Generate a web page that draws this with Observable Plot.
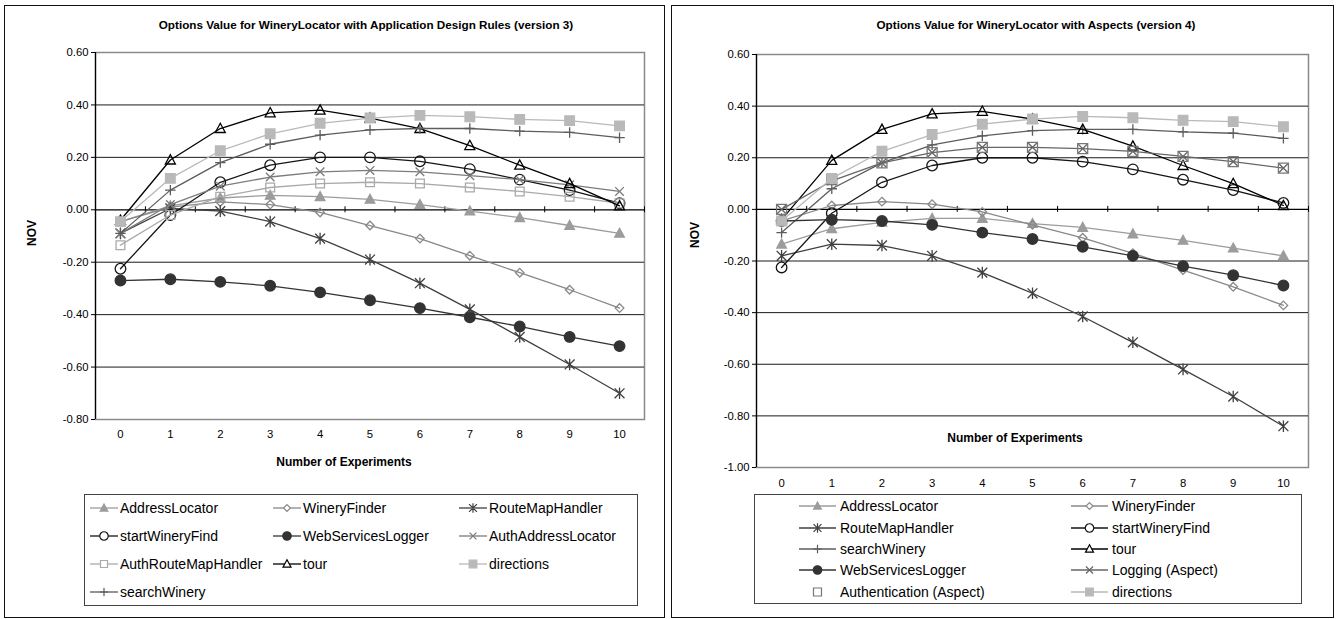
<!DOCTYPE html>
<html><head><meta charset="utf-8">
<script src="https://cdn.jsdelivr.net/npm/d3@7"></script>
<script src="https://cdn.jsdelivr.net/npm/@observablehq/plot@0.6"></script>
<style>
body{margin:0;background:#fff;font-family:"Liberation Sans",Arial,sans-serif;color:#000;}
#page{position:relative;width:1341px;height:619px;overflow:hidden;background:#fff;}
.panel{position:absolute;border:1.5px solid #111;box-sizing:border-box;}
.abs{position:absolute;white-space:nowrap;}
.title{font-weight:bold;font-size:11.7px;transform:translate(-50%,-50%);}
.axt{font-weight:bold;font-size:12px;transform:translate(-50%,-50%);}
.nov{font-weight:bold;font-size:12px;transform:translate(-50%,-50%) rotate(-90deg);}
.legend{position:absolute;border:1px solid #444;box-sizing:border-box;}
.item{position:absolute;font-size:14px;display:flex;align-items:center;height:18px;transform:translateY(-50%);white-space:nowrap;}
.item svg{display:block;overflow:visible;}
.chart{position:absolute;}
</style></head><body><div id="page"></div>
<script>
// ---------- data ----------
const experiments = [0, 1, 2, 3, 4, 5, 6, 7, 8, 9, 10];
const yTicksV3 = [0.6, 0.4, 0.2, 0, -0.2, -0.4, -0.6, -0.8];
const yTicksV4 = [0.6, 0.4, 0.2, 0, -0.2, -0.4, -0.6, -0.8, -1.0];

// version 3 (Application Design Rules)
const v3AddressLocator      = [-0.045, 0.015, 0.045, 0.055, 0.05, 0.04, 0.02, -0.005, -0.03, -0.06, -0.09];
const v3WineryFinder        = [-0.045, 0.01, 0.03, 0.02, -0.01, -0.06, -0.11, -0.175, -0.24, -0.305, -0.375];
const v3RouteMapHandler     = [-0.09, 0.005, -0.005, -0.045, -0.11, -0.19, -0.28, -0.38, -0.485, -0.59, -0.70];
const v3startWineryFind     = [-0.225, -0.02, 0.105, 0.17, 0.20, 0.20, 0.185, 0.155, 0.115, 0.075, 0.025];
const v3WebServicesLogger   = [-0.27, -0.265, -0.275, -0.29, -0.315, -0.345, -0.375, -0.41, -0.445, -0.485, -0.52];
const v3AuthAddressLocator  = [-0.09, 0.02, 0.09, 0.125, 0.145, 0.15, 0.145, 0.13, 0.115, 0.095, 0.07];
const v3AuthRouteMapHandler = [-0.135, -0.02, 0.05, 0.085, 0.10, 0.105, 0.10, 0.085, 0.07, 0.05, 0.025];
const v3tour                = [-0.04, 0.19, 0.31, 0.37, 0.38, 0.35, 0.31, 0.245, 0.17, 0.10, 0.015];
const v3directions          = [-0.045, 0.12, 0.225, 0.29, 0.33, 0.35, 0.36, 0.355, 0.345, 0.34, 0.32];
const v3searchWinery        = [-0.09, 0.075, 0.18, 0.25, 0.285, 0.305, 0.31, 0.31, 0.30, 0.295, 0.275];

// version 4 (Aspects)
const v4AddressLocator      = [-0.135, -0.075, -0.05, -0.035, -0.035, -0.055, -0.07, -0.095, -0.12, -0.15, -0.18];
const v4WineryFinder        = [-0.045, 0.015, 0.03, 0.02, -0.01, -0.06, -0.11, -0.17, -0.235, -0.30, -0.372];
const v4RouteMapHandler     = [-0.18, -0.135, -0.14, -0.18, -0.245, -0.325, -0.415, -0.515, -0.62, -0.725, -0.84];
const v4startWineryFind     = [-0.225, -0.015, 0.105, 0.17, 0.20, 0.20, 0.185, 0.155, 0.115, 0.075, 0.025];
const v4searchWinery        = [-0.09, 0.08, 0.18, 0.25, 0.285, 0.305, 0.31, 0.31, 0.30, 0.295, 0.275];
const v4tour                = [-0.04, 0.19, 0.31, 0.37, 0.38, 0.35, 0.31, 0.245, 0.17, 0.10, 0.015];
const v4WebServicesLogger   = [-0.045, -0.04, -0.045, -0.06, -0.09, -0.115, -0.145, -0.18, -0.22, -0.255, -0.295];
const v4Logging             = [0.0, 0.11, 0.18, 0.22, 0.24, 0.24, 0.235, 0.225, 0.205, 0.185, 0.16];
const v4Authentication      = [0.0, 0.115, 0.18, 0.22, 0.24, 0.24, 0.235, 0.225, 0.205, 0.185, 0.16];
const v4directions          = [-0.045, 0.12, 0.225, 0.29, 0.33, 0.35, 0.36, 0.355, 0.345, 0.34, 0.32];

const seriesV3 = [
  ["AddressLocator", v3AddressLocator], ["WineryFinder", v3WineryFinder], ["RouteMapHandler", v3RouteMapHandler],
  ["startWineryFind", v3startWineryFind], ["WebServicesLogger", v3WebServicesLogger], ["AuthAddressLocator", v3AuthAddressLocator],
  ["AuthRouteMapHandler", v3AuthRouteMapHandler], ["tour", v3tour], ["directions", v3directions],
  ["searchWinery", v3searchWinery]
];
const seriesV4 = [
  ["AddressLocator", v4AddressLocator], ["WineryFinder", v4WineryFinder], ["RouteMapHandler", v4RouteMapHandler],
  ["startWineryFind", v4startWineryFind], ["searchWinery", v4searchWinery], ["tour", v4tour],
  ["WebServicesLogger", v4WebServicesLogger], ["Logging (Aspect)", v4Logging], ["Authentication (Aspect)", v4Authentication],
  ["directions", v4directions]
];

// ---------- styles ----------
function sym(fn){ return {draw(c, size){ fn(c, Math.sqrt(size / Math.PI)); }}; }
const SYM = {
  triangle: sym((c,h)=>{c.moveTo(0,-h*1.05);c.lineTo(h,h*0.8);c.lineTo(-h,h*0.8);c.closePath();}),
  square:   sym((c,h)=>{c.rect(-h,-h,2*h,2*h);}),
  diamond:  sym((c,h)=>{c.moveTo(0,-h);c.lineTo(h,0);c.lineTo(0,h);c.lineTo(-h,0);c.closePath();}),
  circle:   sym((c,h)=>{c.moveTo(h,0);c.arc(0,0,h,0,2*Math.PI);}),
  star:     sym((c,h)=>{c.moveTo(0,-h);c.lineTo(0,h);const k=h*0.85;c.moveTo(-k,-k);c.lineTo(k,k);c.moveTo(-k,k);c.lineTo(k,-k);}),
  times:    sym((c,h)=>{c.moveTo(-h,-h);c.lineTo(h,h);c.moveTo(-h,h);c.lineTo(h,-h);}),
  plus:     sym((c,h)=>{c.moveTo(-h,0);c.lineTo(h,0);c.moveTo(0,-h);c.lineTo(0,h);})
};
const STYLE = {
  "AddressLocator":          {color:"#9c9c9c", sym:"triangle", fill:true,  r:4.8},
  "WineryFinder":            {color:"#888888", sym:"diamond",  fill:false, r:4.3},
  "RouteMapHandler":         {color:"#3f3f3f", sym:"star",     fill:false, r:5.8},
  "startWineryFind":         {color:"#151515", sym:"circle",   fill:false, r:5.3},
  "WebServicesLogger":       {color:"#333333", sym:"circle",   fill:true,  r:5.3},
  "AuthAddressLocator":      {color:"#7c7c7c", sym:"times",    fill:false, r:4.3},
  "AuthRouteMapHandler":     {color:"#aaaaaa", sym:"square",   fill:false, r:4.4},
  "tour":                    {color:"#000000", sym:"triangle", fill:false, r:5},
  "directions":              {color:"#b9b9b9", sym:"square",   fill:true,  r:4.8},
  "searchWinery":            {color:"#5c5c5c", sym:"plus",     fill:false, r:5.2},
  "Logging (Aspect)":        {color:"#666666", sym:"times",    fill:false, r:4.4},
  "Authentication (Aspect)": {color:"#777777", sym:"square",   fill:false, r:5, noLine:true}
};

const fmt = d => (Math.abs(d) < 1e-9 ? 0 : d).toFixed(2);
const page = document.getElementById("page");

function addDiv(cls, x, y, text){
  const d = document.createElement("div");
  d.className = "abs " + cls; d.style.left = x + "px"; d.style.top = y + "px"; d.textContent = text;
  page.appendChild(d); return d;
}
function addPanel(x, y, w, h){
  const d = document.createElement("div"); d.className = "panel";
  Object.assign(d.style, {left:x+"px", top:y+"px", width:w+"px", height:h+"px"});
  page.appendChild(d);
}

function makeChart(series, yTicks, opt){
  const marks = [
    Plot.frame({stroke:"#8a8a8a", strokeWidth:1.5}),
    Plot.ruleY(yTicks.filter(d => d !== 0 && d !== yTicks[0] && d !== yTicks[yTicks.length-1]), {stroke:"#1a1a1a", strokeWidth:1}),
    Plot.ruleX([-0.5], {stroke:"#000", strokeWidth:1.2}),
    Plot.ruleY([0], {stroke:"#000", strokeWidth:1.2}),
    Plot.ruleX(experiments.concat([11]).map(d => d - 0.5), {y1:0, y2:0, insetTop:-3, insetBottom:-3, stroke:"#000"}),
    Plot.axisY({ticks: yTicks, tickFormat: fmt, tickSize: 4, tickPadding: 3, fontSize: 11.3, label: null}),
    Plot.axisX({ticks: experiments, tickFormat: d => String(d), tickSize: 0, tickPadding: opt.xPad, fontSize: 11.3, label: null})
  ];
  for (const [name, vals] of series) {
    const s = STYLE[name];
    const data = vals.map((v, i) => ({x: experiments[i], y: v}));
    if (!s.noLine) marks.push(Plot.line(data, {x:"x", y:"y", stroke:s.color, strokeWidth:1.3}));
    marks.push(Plot.dot(data, {x:"x", y:"y", r:s.r, symbol:SYM[s.sym],
      fill: s.fill ? s.color : "none", stroke: s.color, strokeWidth: 1.3}));
  }
  const svg = Plot.plot({
    width: opt.width, height: opt.height,
    marginLeft: opt.ml, marginRight: opt.mr, marginTop: opt.mt, marginBottom: opt.mb,
    x: {domain: [-0.5, 10.5]},
    y: {domain: [yTicks[yTicks.length-1], yTicks[0]]},
    style: {fontFamily: "Liberation Sans, Arial, sans-serif", color: "#000", background: "transparent", overflow: "visible"},
    marks
  });
  const wrap = document.createElement("div"); wrap.className = "chart";
  wrap.style.left = opt.left + "px"; wrap.style.top = opt.top + "px";
  wrap.appendChild(svg); page.appendChild(wrap);
}

function makeLegend(series, box, cols, rows, lineLen, textGap){
  const b = document.createElement("div"); b.className = "legend";
  Object.assign(b.style, {left:box[0]+"px", top:box[1]+"px", width:box[2]+"px", height:box[3]+"px"});
  page.appendChild(b);
  series.forEach(([name], i) => {
    const s = STYLE[name];
    const col = i % cols.length, row = Math.floor(i / cols.length);
    const it = document.createElement("div"); it.className = "item";
    it.style.left = cols[col] + "px"; it.style.top = rows[row] + "px";
    const ns = "http://www.w3.org/2000/svg";
    const svg = document.createElementNS(ns, "svg");
    svg.setAttribute("width", lineLen); svg.setAttribute("height", 16);
    if (!s.noLine) {
      const ln = document.createElementNS(ns, "line");
      ln.setAttribute("x1", 0); ln.setAttribute("x2", lineLen); ln.setAttribute("y1", 8); ln.setAttribute("y2", 8);
      ln.setAttribute("stroke", s.color); ln.setAttribute("stroke-width", 1.3);
      svg.appendChild(ln);
    }
    const rr = s.r * 0.8;
    const p = document.createElementNS(ns, "path");
    p.setAttribute("d", d3.symbol(SYM[s.sym], Math.PI * rr * rr)());
    p.setAttribute("transform", `translate(${lineLen/2},8)`);
    p.setAttribute("fill", s.fill ? s.color : (s.sym === "star" || s.sym === "times" || s.sym === "plus") ? "none" : "#fff");
    p.setAttribute("stroke", s.color); p.setAttribute("stroke-width", 1.2);
    svg.appendChild(p);
    it.appendChild(svg);
    const t = document.createElement("span"); t.textContent = name; t.style.marginLeft = textGap + "px";
    it.appendChild(t);
    page.appendChild(it);
  });
}

// ---------- panels ----------
addPanel(4, 5, 661, 613);
addPanel(671, 5, 663, 613);

// left chart
makeChart(seriesV3, yTicksV3, {left:0, top:0, width:670, height:470, ml:95, mr:26, mt:52, mb:51, xPad:10});
addDiv("title", 366, 24, "Options Value for WineryLocator with Application Design Rules (version 3)");
addDiv("nov", 32, 233, "NOV");
addDiv("axt", 344, 462, "Number of Experiments");
makeLegend(seriesV3, [84, 494, 554, 112], [90, 273, 459], [508, 536, 564, 592], 28, 2);

// right chart
makeChart(seriesV4, yTicksV4, {left:668, top:0, width:673, height:500, ml:88, mr:33, mt:54, mb:33, xPad:11});
addDiv("title", 1036, 24, "Options Value for WineryLocator with Aspects (version 4)");
addDiv("nov", 695, 235, "NOV");
addDiv("axt", 1015, 438, "Number of Experiments");
makeLegend(seriesV4, [754, 494, 548, 110], [799, 1071], [506, 528, 549, 570, 592], 37, 4);
</script></body></html>
